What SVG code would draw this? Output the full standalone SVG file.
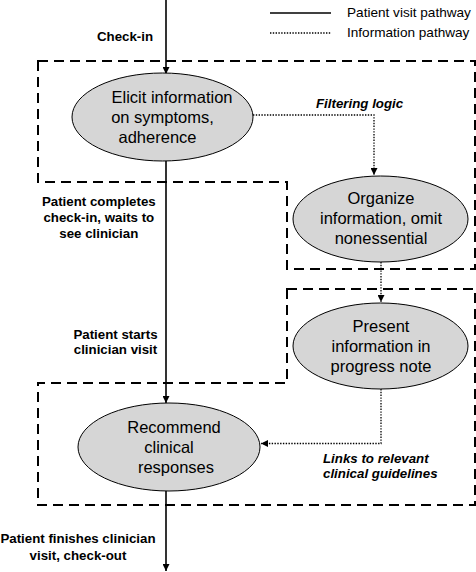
<svg xmlns="http://www.w3.org/2000/svg" width="476" height="572" viewBox="0 0 476 572">
<style>
.box{fill:none;stroke:#000;stroke-width:2;stroke-dasharray:10 6}
.node{fill:#d6d6d6;stroke:#000;stroke-width:1}
.solid{fill:none;stroke:#000;stroke-width:1.6}
.dot{fill:none;stroke:#000;stroke-width:1.3;stroke-dasharray:1.4 1.4}
.nt{font-family:"Liberation Sans",Arial,sans-serif;font-size:16.5px;text-anchor:middle;fill:#000}
.lb{font-family:"Liberation Sans",Arial,sans-serif;font-size:13.3px;font-weight:bold;text-anchor:middle;fill:#000}
.li{font-family:"Liberation Sans",Arial,sans-serif;font-size:13.3px;font-weight:bold;font-style:italic;fill:#000}
.lg{font-family:"Liberation Sans",Arial,sans-serif;font-size:13.6px;fill:#000}
</style>
<defs>
<marker id="ah" viewBox="0 0 8 8" refX="8" refY="4" markerWidth="7" markerHeight="7" markerUnits="userSpaceOnUse" orient="auto">
<path d="M0,0 L8,4 L0,8 z" fill="#000"/>
</marker>
</defs>
<g id="boxes">
<path class="box" d="M38,61 H475 V269 H287 V182 H38 Z"/>
<path class="box" d="M287,289 H475 V505 H38 V383 H287 Z"/>
</g>
<g id="legend">
<line x1="270" y1="13" x2="331" y2="13" stroke="#000" stroke-width="1.6"/>
<line class="dot" x1="270" y1="33" x2="331" y2="33"/>
<text class="lg" x="347" y="16.6">Patient visit pathway</text>
<text class="lg" x="347" y="36.6">Information pathway</text>
</g>
<g id="connectors">
<line class="solid" x1="166" y1="0" x2="166" y2="74" marker-end="url(#ah)"/>
<line class="solid" x1="166" y1="161" x2="166" y2="403" marker-end="url(#ah)"/>
<line class="solid" x1="166" y1="491" x2="166" y2="571" marker-end="url(#ah)"/>
<path class="dot" d="M253,115 H374 V175" marker-end="url(#ah)"/>
<path class="dot" d="M381,262 V302" marker-end="url(#ah)"/>
<path class="dot" d="M381,389 V443.5 H261" marker-end="url(#ah)"/>
</g>
<g id="labels">
<text class="lb" x="125" y="41">Check-in</text>
<text class="li" x="316" y="108">Filtering logic</text>
<text class="lb" x="98.8" y="206.2">Patient completes</text>
<text class="lb" x="98.8" y="222">check-in, waits to</text>
<text class="lb" x="98.8" y="238">see clinician</text>
<text class="lb" x="115.5" y="338.5">Patient starts</text>
<text class="lb" x="115.5" y="354">clinician visit</text>
<text class="li" x="323" y="462.5">Links to relevant</text>
<text class="li" x="323" y="478">clinical guidelines</text>
<text class="lb" x="78" y="543">Patient finishes clinician</text>
<text class="lb" x="78" y="559.5">visit, check-out</text>
</g>
<g id="n1">
<ellipse class="node" cx="162.5" cy="117" rx="90.5" ry="44"/>
<text class="nt" x="172" y="103">Elicit information</text>
<text class="nt" x="162.5" y="123">on symptoms,</text>
<text class="nt" x="157.5" y="143">adherence</text>
</g>
<g id="n2">
<ellipse class="node" cx="380.5" cy="219" rx="87.5" ry="43"/>
<text class="nt" x="381" y="204">Organize</text>
<text class="nt" x="381" y="224">information, omit</text>
<text class="nt" x="381" y="244">nonessential</text>
</g>
<g id="n3">
<ellipse class="node" cx="380.5" cy="346" rx="87.5" ry="43"/>
<text class="nt" x="381" y="331.5">Present</text>
<text class="nt" x="381" y="351.5">information in</text>
<text class="nt" x="381" y="371.5">progress note</text>
</g>
<g id="n4">
<ellipse class="node" cx="169" cy="447" rx="91" ry="44"/>
<text class="nt" x="174" y="433">Recommend</text>
<text class="nt" x="169" y="453">clinical</text>
<text class="nt" x="176" y="473">responses</text>
</g>
</svg>
